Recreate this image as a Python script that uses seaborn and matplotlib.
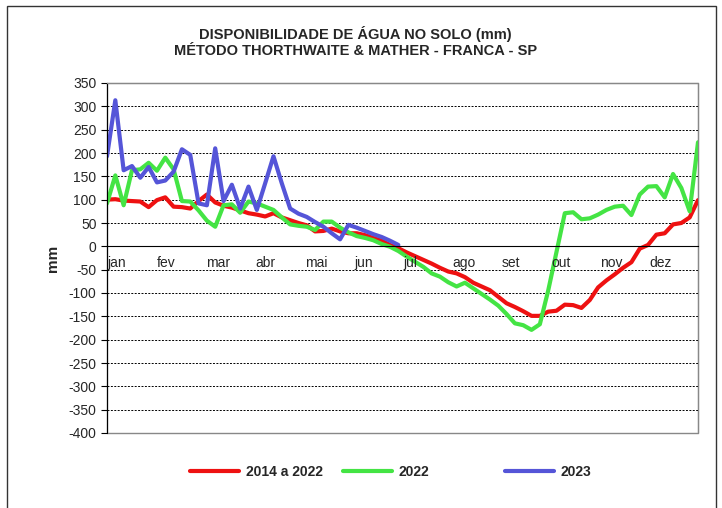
import matplotlib.pyplot as plt
import numpy as np
import seaborn as sns
from matplotlib.patches import Rectangle

# Data (6 values per month)
meses = ['jan', 'fev', 'mar', 'abr', 'mai', 'jun', 'jul', 'ago', 'set', 'out', 'nov', 'dez']

media_2014_2022 = [100, 101, 98, 97, 96, 84, 99, 105, 85, 84,
                   81, 97, 111, 94, 87, 83, 77, 71, 68, 64,
                   71, 62, 56, 50, 45, 32, 33, 38, 32, 28,
                   28, 24, 18, 12, 3, -4, -13, -21, -29, -37,
                   -46, -54, -58, -66, -78, -86, -94, -108, -122, -130,
                   -139, -149, -149, -140, -138, -125, -126, -132, -115, -88,
                   -73, -60, -46, -34, -5, 3, 25, 28, 47, 50,
                   62, 99]

ano_2022 = [92, 152, 88, 163, 165, 179, 162, 190, 165, 97,
            96, 77, 55, 42, 88, 90, 72, 96, 92, 85,
            78, 62, 47, 44, 42, 35, 53, 53, 40, 30,
            22, 18, 13, 5, -1, -10, -22, -33, -44, -58,
            -65, -77, -86, -78, -90, -102, -114, -127, -145, -165,
            -169, -179, -167, -95, -12, 71, 73, 58, 60, 68,
            78, 85, 87, 67, 111, 128, 129, 105, 155, 125,
            75, 223]

ano_2023 = [193, 313, 163, 172, 147, 170, 137, 141, 160, 208,
            196, 92, 88, 210, 97, 132, 81, 128, 78, 135,
            193, 135, 81, 70, 63, 52, 42, 28, 15, 46,
            40, 33, 26, 20, 12, 3]

sns.set_style('white')
plt.rcParams['font.family'] = ['Liberation Sans', 'DejaVu Sans']

fig = plt.figure(figsize=(7.22, 5.08), dpi=100)
ax = fig.add_axes([107 / 722, 1 - 433 / 508, 591 / 722, 350 / 508])

n = len(media_2014_2022)
sns.lineplot(x=np.arange(n), y=media_2014_2022, color='#EE1111', linewidth=3, ax=ax)
sns.lineplot(x=np.arange(len(ano_2022)), y=ano_2022, color='#44E444', linewidth=3, ax=ax)
sns.lineplot(x=np.arange(len(ano_2023)), y=ano_2023, color='#5555D8', linewidth=3, ax=ax)
linhas = list(ax.get_lines())

ax.set_xlim(0, n - 1)
ax.set_ylim(-400, 350)
ax.set_yticks(np.arange(-400, 351, 50))
ax.set_yticklabels([str(v) for v in range(-400, 351, 50)], fontsize=10)
ax.yaxis.grid(True, linestyle=(0, (2, 1.5)), color='black', linewidth=0.7)
ax.set_axisbelow(True)

# month boundaries on the zero line, labels just after each one
limites = np.arange(13) * (n - 1) / 12
ax.set_xticks(limites)
ax.set_xticklabels([])
ax.spines['bottom'].set_position(('data', 0))
ax.spines['bottom'].set_color('black')
ax.spines['left'].set_color('black')
ax.spines['top'].set_color('#888888')
ax.spines['right'].set_color('#888888')
ax.tick_params(axis='x', direction='in', length=4, color='black')
ax.tick_params(axis='y', direction='out', length=4, color='black', left=True)
for t, m in zip(limites[:-1], meses):
    ax.text(t + 0.1, -36, m, ha='left', va='center', fontsize=10)

ax.add_patch(Rectangle((0, 0), 1, 1, transform=ax.transAxes, fill=False,
                       edgecolor='#888888', linewidth=1, clip_on=False, zorder=0.5))

ax.set_ylabel('mm', fontsize=11, fontweight='bold')
ax.yaxis.set_label_coords(-0.079, 0.5)

fig.text(0.492, 0.917, 'DISPONIBILIDADE DE ÁGUA NO SOLO (mm)\nMÉTODO THORTHWAITE & MATHER - FRANCA - SP',
         ha='center', va='center', fontsize=10.5, fontweight='bold', linespacing=1.15)

# legend entries placed one by one
nomes = ['2014 a 2022', '2022', '2023']
inicio = [190, 343, 505]
for lin, nome, x0 in zip(linhas, nomes, inicio):
    fig.legend([lin], [nome], loc='center left', bbox_to_anchor=(x0 / 722, 1 - 472 / 508),
               frameon=False, borderpad=0, borderaxespad=0, handlelength=3.5,
               handletextpad=0.5, prop={'weight': 'bold', 'size': 10})

fig.patches.append(Rectangle((7 / 722, -0.01), 709 / 722, 1.01 - 6 / 508, transform=fig.transFigure,
                             fill=False, edgecolor='#333333', linewidth=1))

fig.savefig('out.png')
